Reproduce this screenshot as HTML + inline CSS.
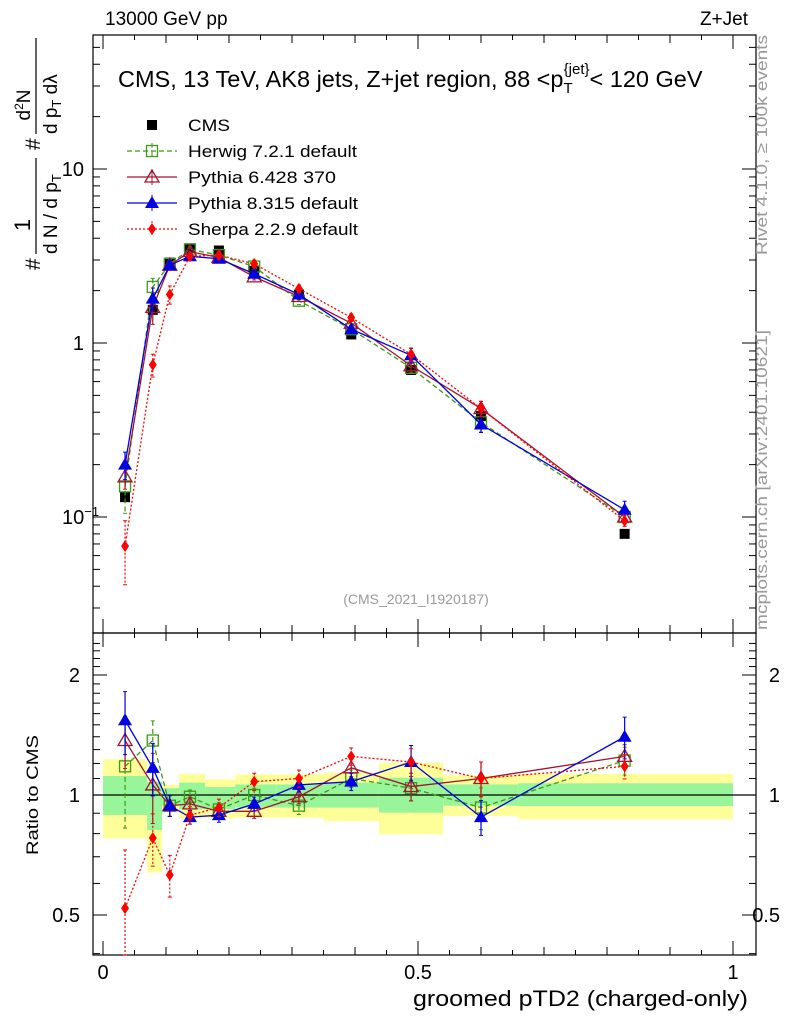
<!DOCTYPE html>
<html><head><meta charset="utf-8"><style>
body{margin:0;background:#fff}
svg{display:block;font-family:"Liberation Sans",sans-serif}
</style></head><body>
<svg id="c" width="786" height="1024" viewBox="0 0 786 1024" xmlns="http://www.w3.org/2000/svg">
<rect x="0" y="0" width="786" height="1024" fill="#fff"/>
<g id="bands"></g>
<g id="axes"></g>
<g id="series"></g>
<text x="105" y="25" font-size="19">13000 GeV pp</text>
<text x="748" y="25" font-size="19" text-anchor="end">Z+Jet</text>
<text x="118" y="87" font-size="23.5">CMS, 13 TeV, AK8 jets, Z+jet region, 88 &lt;p<tspan font-size="15" dy="6">T</tspan><tspan font-size="15" dx="-9" dy="-19">{jet}</tspan><tspan dy="13">&lt; 120 GeV</tspan></text>
<text x="416" y="604" font-size="14" fill="#999" text-anchor="middle">(CMS_2021_I1920187)</text>
<text transform="translate(767,255) rotate(-90)" font-size="16" fill="#999" textLength="220" lengthAdjust="spacingAndGlyphs">Rivet 4.1.0, ≥ 100k events</text>
<text transform="translate(767,630) rotate(-90)" font-size="16" fill="#999" textLength="300" lengthAdjust="spacingAndGlyphs">mcplots.cern.ch [arXiv:2401.10621]</text>
<g transform="translate(40,270) rotate(-90)" font-size="21">
<text x="0" y="0">#</text>
<text x="45" y="-10" font-size="22" text-anchor="middle">1</text>
<line x1="16" y1="-4" x2="112" y2="-4" stroke="#000" stroke-width="1.2"/>
<text x="16" y="17" font-size="19">d N / d p<tspan font-size="13" dy="4">T</tspan></text>
<text x="120" y="0">#</text>
<text x="165" y="-10" font-size="19" text-anchor="middle">d<tspan font-size="12" dy="-7">2</tspan><tspan dy="7">N</tspan></text>
<line x1="136" y1="-4" x2="232" y2="-4" stroke="#000" stroke-width="1.2"/>
<text x="136" y="17" font-size="19">d p<tspan font-size="13" dy="4">T</tspan><tspan dy="-4"> dλ</tspan></text>
</g>
<text transform="translate(38,795) rotate(-90)" font-size="17" text-anchor="middle" textLength="120" lengthAdjust="spacingAndGlyphs">Ratio to CMS</text>
<text x="748" y="1006" font-size="22" text-anchor="end" textLength="335" lengthAdjust="spacingAndGlyphs">groomed pTD2 (charged-only)</text>
<g id="legend"></g>
</svg>
<script>
const xs = [0.035,0.079,0.106,0.138,0.184,0.240,0.311,0.394,0.489,0.600,0.828];
const binEdges = [0,0.070,0.094,0.121,0.162,0.210,0.276,0.350,0.438,0.540,0.659,1.0];
const cmsVals = [0.13,1.55,2.9,3.5,3.4,2.6,1.9,1.12,0.70,0.38,0.080];
const herwigVals = [0.15,2.1,2.85,3.45,3.2,2.75,1.75,1.2,0.72,0.35,0.10];
const pythia6Vals = [0.17,1.6,2.8,3.35,3.1,2.4,1.85,1.3,0.74,0.42,0.10];
const pythia8Vals = [0.20,1.8,2.8,3.15,3.05,2.5,1.9,1.2,0.85,0.34,0.11];
const sherpaVals = [0.068,0.75,1.9,3.15,3.2,2.85,2.05,1.4,0.86,0.42,0.095];
const herwigRatio = [1.18,1.37,0.94,0.99,0.92,1.0,0.94,1.1,1.04,0.93,1.22];
const pythia6Ratio = [1.37,1.06,0.94,0.95,0.91,0.91,0.99,1.17,1.05,1.10,1.25];
const pythia8Ratio = [1.54,1.17,0.94,0.88,0.89,0.95,1.06,1.08,1.21,0.88,1.40];
const sherpaRatio = [0.52,0.78,0.63,0.89,0.93,1.08,1.10,1.25,1.21,1.10,1.18];
const herwigErr = [0.3,0.12,0.06,0.04,0.04,0.04,0.05,0.05,0.07,0.12,0.08];
const pythia6Err = [0.15,0.2,0.06,0.04,0.04,0.04,0.04,0.05,0.08,0.1,0.07];
const pythia8Err = [0.18,0.15,0.06,0.04,0.04,0.04,0.04,0.05,0.1,0.1,0.12];
const sherpaErr = [0.4,0.15,0.12,0.05,0.05,0.05,0.05,0.05,0.08,0.1,0.07];
const cmsErr = [0.06,0.04,0.03,0.02,0.02,0.02,0.03,0.03,0.04,0.05,0.06];
const yellowUp = [1.23,1.08,1.06,1.13,1.095,1.127,1.127,1.137,1.205,1.12,1.13];
const yellowDn = [0.778,0.639,0.92,0.874,0.874,0.877,0.877,0.86,0.797,0.886,0.869];
const greenUp = [1.116,1.08,1.04,1.074,1.047,1.063,1.063,1.074,1.105,1.063,1.07];
const greenDn = [0.891,0.817,0.94,0.92,0.92,0.93,0.93,0.93,0.903,0.94,0.938];
const yTickMain = ["10","1"];
const xTickLabels = ["0","0.5","1"];
const rTickLabels = ["2","1","0.5"];

const NS="http://www.w3.org/2000/svg";
const L=93,R=756,T=35,MB=633,B=955;
const X=v=>103+630*v;
const Y=v=>343-174*Math.log10(v);
const RY=v=>795-398.6*Math.log10(v);
function mk(tag,parent,attrs){const e=document.createElementNS(NS,tag);for(const k in attrs)e.setAttribute(k,attrs[k]);parent.appendChild(e);return e;}
const axes=document.getElementById('axes'), bands=document.getElementById('bands'), ser=document.getElementById('series'), leg=document.getElementById('legend');

for(let i=0;i<xs.length;i++){
  const x0=X(binEdges[i]),x1=X(binEdges[i+1]);
  let r=mk('rect',bands,{x:x0,y:RY(yellowUp[i]),width:x1-x0,height:RY(yellowDn[i])-RY(yellowUp[i]),fill:'#ffff99'});
  
  
  r=mk('rect',bands,{x:x0,y:RY(greenUp[i]),width:x1-x0,height:RY(greenDn[i])-RY(greenUp[i]),fill:'#99f599'});
  
  
}
let ln=mk('line',axes,{x1:L,x2:R,y1:RY(1),y2:RY(1),stroke:'#000','stroke-width':1.2});



[[T,MB],[MB,B]].forEach(([a,b])=>{const f=mk('rect',axes,{x:L,y:a,width:R-L,height:b-a,fill:'none',stroke:'#000','stroke-width':1.2});

});
for(let k=0;k<=20;k++){const v=k*0.05;const len=(k%10==0)?14:(k%2==0?8:5);
  [[T,1],[MB,-1],[MB,1],[B,-1]].forEach(([y0,d])=>mk('line',axes,{x1:X(v),x2:X(v),y1:y0,y2:y0+d*len,stroke:'#000'}));}
xTickLabels.forEach((t,i)=>{const e=mk('text',axes,{x:X(i*0.5),y:979,'font-size':20,'text-anchor':'middle'});e.textContent=t;

});
for(let d=-2;d<=1;d++){for(let m=1;m<10;m++){const v=m*Math.pow(10,d);const y=Y(v);if(y<T||y>MB)continue;const len=m==1?14:7;
  mk('line',axes,{x1:L,x2:L+len,y1:y,y2:y,stroke:'#000'});mk('line',axes,{x1:R,x2:R-len,y1:y,y2:y,stroke:'#000'});}}
yTickMain.forEach((t,i)=>{const e=mk('text',axes,{x:84,y:Y(i==0?10:1)+7,'font-size':20,'text-anchor':'end'});e.textContent=t;

});
let e10=mk('text',axes,{x:62,y:Y(0.1)+7,'font-size':20});e10.innerHTML='10<tspan font-size="13" dy="-8">−1</tspan>';


for(let v=0.4;v<=2.5;v+=0.1){const vv=Math.round(v*10)/10;const y=RY(vv);if(y<MB||y>B)continue;const len=(vv==0.5||vv==1||vv==2)?14:7;
  mk('line',axes,{x1:L,x2:L+len,y1:y,y2:y,stroke:'#000'});mk('line',axes,{x1:R,x2:R-len,y1:y,y2:y,stroke:'#000'});}
[2,1,0.5].forEach((v,i)=>{[[80,'end'],[780,'end']].forEach(([x,a])=>{const e=mk('text',axes,{x:x,y:RY(v)+7,'font-size':20,'text-anchor':a});e.textContent=rTickLabels[i];

});});

function marker(g,type,x,y,col){
  if(type=='sq') mk('rect',g,{x:x-5,y:y-5,width:10,height:10,fill:'#000'});
  else if(type=='osq') mk('rect',g,{x:x-5.5,y:y-5.5,width:11,height:11,fill:'none',stroke:col,'stroke-width':1.3});
  else if(type=='otri') mk('polygon',g,{points:`${x},${y-7} ${x-7},${y+5} ${x+7},${y+5}`,fill:'none',stroke:col,'stroke-width':1.3});
  else if(type=='tri') mk('polygon',g,{points:`${x},${y-7} ${x-7},${y+5} ${x+7},${y+5}`,fill:col});
  else mk('polygon',g,{points:`${x},${y-6} ${x-4},${y} ${x},${y+6} ${x+4},${y}`,fill:col});
}
const defs=[
 {name:'herwig',label:'Herwig 7.2.1 default',vals:herwigVals,rat:herwigRatio,err:herwigErr,col:'#3d9a16',dash:'5,3',m:'osq'},
 {name:'pythia6',label:'Pythia 6.428 370',vals:pythia6Vals,rat:pythia6Ratio,err:pythia6Err,col:'#a3142e',dash:'',m:'otri'},
 {name:'pythia8',label:'Pythia 8.315 default',vals:pythia8Vals,rat:pythia8Ratio,err:pythia8Err,col:'#0000e0',dash:'',m:'tri'},
 {name:'sherpa',label:'Sherpa 2.2.9 default',vals:sherpaVals,rat:sherpaRatio,err:sherpaErr,col:'#ff0000',dash:'2,2',m:'dia'}];
function drawSeries(vals,err,fy,col,dash,m,name,clip){
  const g=mk('g',ser,{});
  
  
  const pts=xs.map((x,i)=>[X(x),fy(vals[i])]);
  if(col) mk('polyline',g,{points:pts.map(p=>p.join(',')).join(' '),fill:'none',stroke:col,'stroke-width':1.3,'stroke-dasharray':dash});
  xs.forEach((x,i)=>{const px=X(x);let y1=fy(vals[i]*(1+err[i])),y2=fy(Math.max(vals[i]*(1-err[i]),1e-6));
    y1=Math.max(y1,clip[0]);y2=Math.min(y2,clip[1]);
    mk('line',g,{x1:px,x2:px,y1:y1,y2:y2,stroke:col||'#000','stroke-width':1.2,'stroke-dasharray':dash});
    if(col){mk('line',g,{x1:px-2,x2:px+2,y1:y1,y2:y1,stroke:col});mk('line',g,{x1:px-2,x2:px+2,y1:y2,y2:y2,stroke:col});}
    marker(g,m,px,fy(vals[i]),col);});
}
drawSeries(cmsVals,cmsErr,Y,null,'','sq','cms-data',[T,MB]);
defs.forEach(d=>{
  drawSeries(d.vals,d.err,Y,d.col,d.dash,d.m,d.name+'-main',[T,MB]);
  drawSeries(d.rat,d.err,RY,d.col,d.dash,d.m,d.name+'-ratio',[MB,B]);
});
const lrows=[{label:'CMS',m:'sq',col:'#000',dash:null}].concat(defs);
const legLens=[42,169,148,170,170];
lrows.forEach((d,i)=>{const y=125+i*26;const g=mk('g',leg,{});
  
  
  if(d.dash!==null){mk('line',g,{x1:127,x2:177,y1:y,y2:y,stroke:d.col,'stroke-width':1.3,'stroke-dasharray':d.dash});mk('line',g,{x1:152,x2:152,y1:y-8,y2:y+8,stroke:d.col,'stroke-dasharray':d.dash});}
  marker(g,d.m,152,y,d.col);
  const t=mk('text',g,{x:188,y:y+6,'font-size':17,textLength:legLens[i],lengthAdjust:'spacingAndGlyphs'});t.textContent=d.label;});
</script>
</body></html>
